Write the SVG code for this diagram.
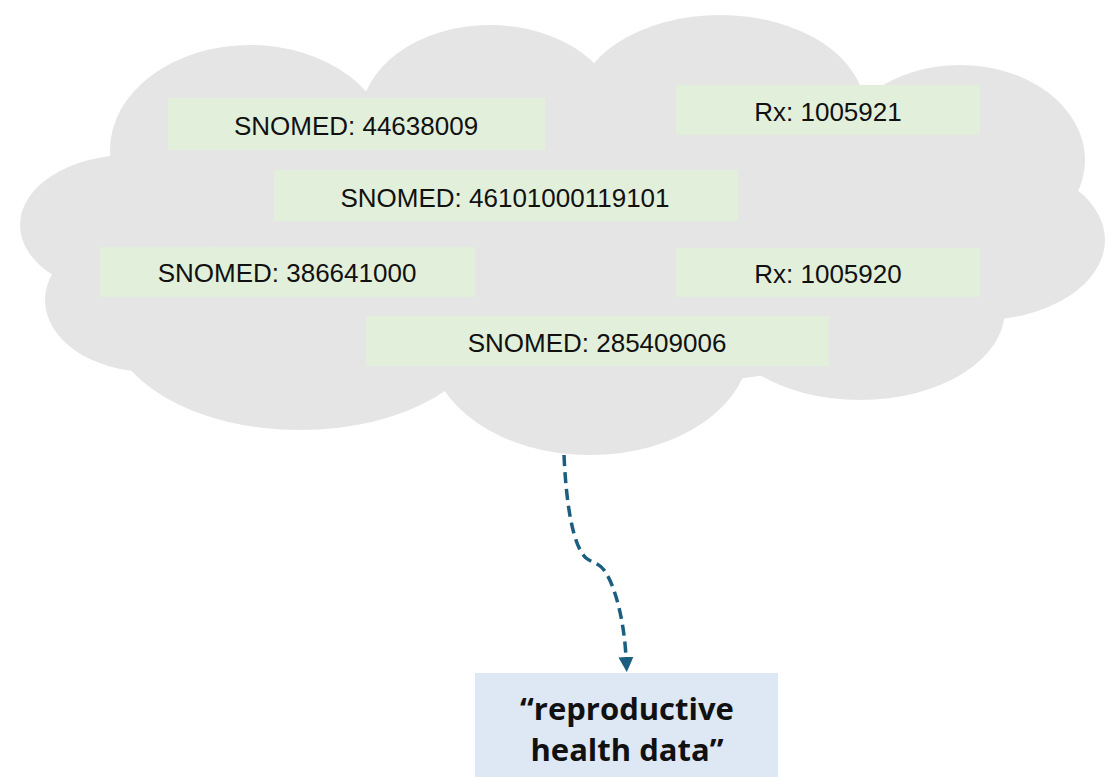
<svg xmlns="http://www.w3.org/2000/svg" width="1117" height="777" viewBox="0 0 1117 777">
<style>
.cloud{fill:#e5e5e5}
.tag{fill:#e2efda}
.lbl{font-family:"Liberation Sans",Arial,sans-serif;font-size:26px;fill:#111;text-anchor:middle}
.out{fill:#dde8f4}
.outtxt{font-family:"Open Sans","Liberation Sans",sans-serif;font-weight:bold;font-size:31px;fill:#111;text-anchor:middle}
.conn{fill:none;stroke:#1b5e80;stroke-width:3.5;stroke-dasharray:11 6}
</style>
<defs>
<marker id="ah" viewBox="0 0 10 10" refX="0" refY="5" markerWidth="4.3" markerHeight="4.3" orient="auto" markerUnits="strokeWidth">
<path d="M0,0 L10,5 L0,10 Z" fill="#1b5e80"/>
</marker>
</defs>
<g id="cloud" class="cloud">
<ellipse cx="560" cy="240" rx="470" ry="150"/>
<ellipse cx="250" cy="150" rx="140" ry="105"/>
<ellipse cx="490" cy="120" rx="130" ry="95"/>
<ellipse cx="720" cy="110" rx="145" ry="95"/>
<ellipse cx="960" cy="160" rx="125" ry="95"/>
<ellipse cx="980" cy="240" rx="125" ry="80"/>
<ellipse cx="860" cy="310" rx="145" ry="90"/>
<ellipse cx="590" cy="345" rx="160" ry="110"/>
<ellipse cx="300" cy="320" rx="190" ry="110"/>
<ellipse cx="130" cy="225" rx="110" ry="70"/>
<ellipse cx="150" cy="300" rx="105" ry="72"/>
</g>
<g id="n1"><rect class="tag" x="168" y="98" width="377" height="52"/><text class="lbl" x="356" y="135">SNOMED: 44638009</text></g>
<g id="n2"><rect class="tag" x="676" y="85" width="304" height="50"/><text class="lbl" x="828" y="121">Rx: 1005921</text></g>
<g id="n3"><rect class="tag" x="274" y="170" width="464" height="51"/><text class="lbl" x="505" y="207">SNOMED: 46101000119101</text></g>
<g id="n4"><rect class="tag" x="100" y="247" width="375" height="50"/><text class="lbl" x="287" y="282">SNOMED: 386641000</text></g>
<g id="n5"><rect class="tag" x="676" y="248" width="304" height="49"/><text class="lbl" x="828" y="283">Rx: 1005920</text></g>
<g id="n6"><rect class="tag" x="366" y="316" width="463" height="50"/><text class="lbl" x="597" y="352">SNOMED: 285409006</text></g>
<g id="connectors">
<path class="conn" d="M564,455 C566,500 572,545 586,558 C592,563 598,562 604,570 C615,585 624,620 626,657" marker-end="url(#ah)"/>
</g>
<g id="out"><rect class="out" x="475" y="673" width="303" height="110"/>
<text class="outtxt" x="627" y="720">“reproductive</text>
<text class="outtxt" x="627" y="761">health data”</text></g>
</svg>
